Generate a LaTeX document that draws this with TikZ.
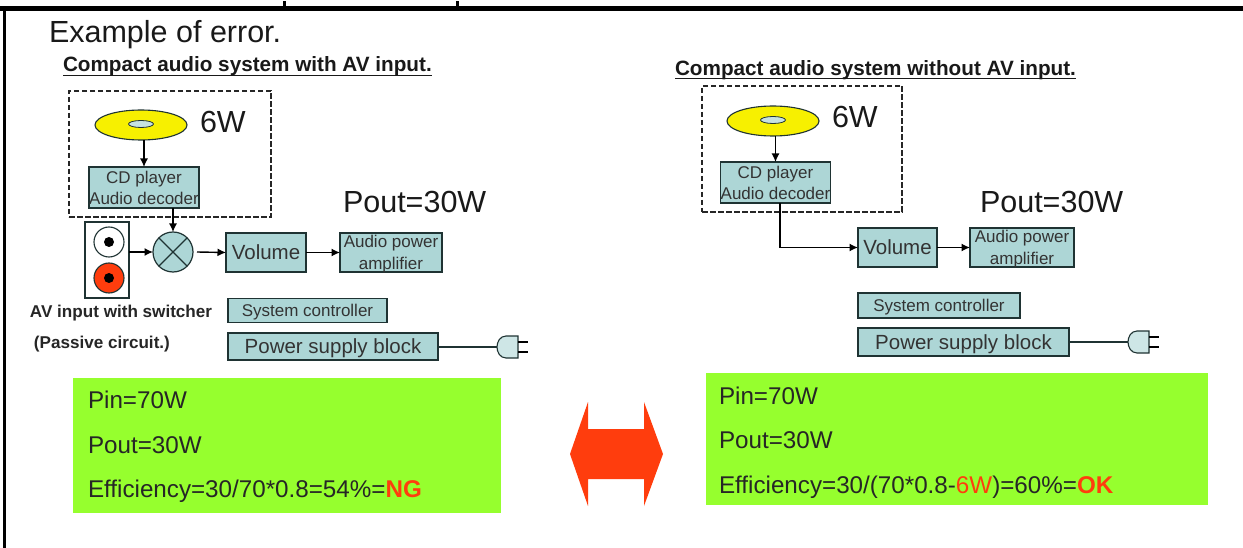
\documentclass[tikz,border=0pt]{standalone}
\usepackage{fontspec}
\setmainfont{Liberation Sans}
\usetikzlibrary{shapes.geometric,arrows.meta}
\definecolor{boxteal}{HTML}{ADD6D6}
\definecolor{boxline}{HTML}{1F3333}
\definecolor{panelgreen}{HTML}{96FF2E}
\definecolor{alertred}{HTML}{FF3D0D}
\definecolor{discyellow}{HTML}{F7F000}
\newcommand{\fsz}[1]{\fontsize{#1}{#1}\selectfont}
\begin{document}
\begin{tikzpicture}
[
x=1pt, y=-1pt,
every node/.style={inner sep=0pt, outer sep=0pt},
Block/.style={rectangle, draw=boxline, fill=boxteal, line width=1.4pt, align=center, text depth=0pt, text=black!80},
SmallBlock/.style={Block, font=\fsz{17}},
BigBlock/.style={Block, font=\fsz{20.5}},
Head/.style={anchor=base west, font=\fsz{30.5}, text=black!90},
Sub/.style={anchor=base west, font=\bfseries\fsz{20.7}, text=black!90},
Rule/.style={black!90, line width=1.2pt},
Note/.style={anchor=base west, font=\bfseries\fsz{17.1}, text=black!85},
Result/.style={anchor=base west, font=\fsz{24.2}, text=black!85},
Disc/.style={ellipse, draw=boxline, fill=discyellow, line width=1.1pt, minimum width=92pt, minimum height=30pt},
Hole/.style={ellipse, draw=boxline, fill=boxteal!70, line width=0.8pt, minimum width=25pt, minimum height=7pt},
Group/.style={rectangle, draw=black!85, line width=1.3pt, dash pattern=on 5.5pt off 2.5pt},
Link/.style={-{Latex[length=8.5pt,width=8pt]}, black, line width=1.4pt},
Cord/.style={boxline, line width=1.2pt},
powerplug/.pic={
  \draw [boxline, fill=boxteal!60, line width=1.1pt] (21,-11) -- (9,-11) .. controls (3,-11) and (0,-5) .. (0,0) .. controls (0,5) and (3,11) .. (9,11) -- (21,11) -- cycle;
  \draw [black, line width=1.3pt] (21,-5) -- (31,-5);
  \draw [black, line width=1.3pt] (21,5) -- (31,5);
},
]
%
\useasboundingbox (0,0) rectangle (1243,548);
\fill [white] (0,0) rectangle (1243,548);
\fill [black] (0,6) rectangle (1243,11);
\fill [black] (3,6) rectangle (6,548);
\fill [black] (283,1) rectangle (286,6);
\fill [black] (456,1) rectangle (459,6);

\node [Head] (Title) at (49,43) {Example of error.};

% left panel
\node [Sub] (Sub1) at (63,72) {Compact audio system with AV input.};
\draw [Rule] ([yshift=-3.5pt]Sub1.base west) -- ([yshift=-3.5pt]Sub1.base east);
\node [Group, minimum width=202pt, minimum height=126pt] (Grp1) at (170,154) {};
\node [Disc] (Disc1) at (141,125) {};
\node [Hole] (Hole1) at (141,124) {};
\node [Head] (Watt1) at (200,133) {6W};
\node [SmallBlock, minimum width=108pt, minimum height=41pt] (CD1) at (144,187.5) {CD player\\[4pt]Audio decoder};
\node [Block, fill=white, minimum width=44pt, minimum height=76pt] (Jack1) at (107,260) {};
\node [circle, draw=boxline, fill=white, line width=1.1pt, minimum size=30pt] (JackW1) at (109,242) {};
\node [circle, fill=black, minimum size=10pt] (DotW1) at (109,242) {};
\node [circle, draw=boxline, fill=alertred, line width=1.1pt, minimum size=30pt] (JackR1) at (109,278) {};
\node [circle, fill=black, minimum size=10pt] (DotR1) at (109,278) {};
\node [circle, draw=boxline, fill=boxteal, line width=1.2pt, minimum size=40pt] (Mix1) at (173,252) {};
\node [BigBlock, minimum width=80pt, minimum height=39pt] (Vol1) at (266,252.5) {Volume};
\node [SmallBlock, minimum width=102pt, minimum height=39pt] (Amp1) at (391,252.5) {Audio power\\[5pt]amplifier};
\node [Head] (Pout1) at (343,213) {Pout=30W};
\node [Note] (Av1) at (30,317) {AV input with switcher};
\node [Note] (Pas1) at (34,348) {(Passive circuit.)};
\node [SmallBlock, minimum width=159pt, minimum height=24pt] (Sys1) at (307.5,310.5) {System controller};
\node [BigBlock, minimum width=210pt, minimum height=27pt] (Pow1) at (333,346.5) {Power supply block};
\coordinate (Plug1) at (497,347);
%
\draw [Link] (CD1.north |- Disc1.south) -- (CD1.north);
\draw [Link] (Mix1.north |- CD1.south) -- (Mix1.north);
\draw [Link] (Jack1.east |- Mix1.west) -- (Mix1.west);
\draw [Link] ([xshift=4pt]Mix1.east) -- (Vol1.west);
\draw [Link] (Vol1.east) -- (Amp1.west);
\draw [boxline, line width=1.1pt] (Mix1.45) -- (Mix1.225);
\draw [boxline, line width=1.1pt] (Mix1.135) -- (Mix1.315);
\draw [Cord] (Pow1.east |- Plug1) -- (Plug1);
\pic at (Plug1) {powerplug};

% right panel
\node [Sub] (Sub2) at (675,75.5) {Compact audio system without AV input.};
\draw [Rule] ([yshift=-3pt]Sub2.base west) -- ([yshift=-3pt]Sub2.base east);
\node [Group, minimum width=200pt, minimum height=126pt] (Grp2) at (802,149) {};
\node [Disc] (Disc2) at (773,121) {};
\node [Hole] (Hole2) at (773,120) {};
\node [Head] (Watt2) at (832,128) {6W};
\node [SmallBlock, minimum width=109pt, minimum height=41pt] (CD2) at (775.5,182.5) {CD player\\[4pt]Audio decoder};
\node [BigBlock, minimum width=79pt, minimum height=39pt] (Vol2) at (897.5,247.5) {Volume};
\node [SmallBlock, minimum width=104pt, minimum height=39pt] (Amp2) at (1022,247.5) {Audio power\\[5pt]amplifier};
\node [Head] (Pout2) at (980,213) {Pout=30W};
\node [SmallBlock, minimum width=162pt, minimum height=25pt] (Sys2) at (939,305.5) {System controller};
\node [BigBlock, minimum width=211pt, minimum height=28pt] (Pow2) at (963.5,342) {Power supply block};
\coordinate (Plug2) at (1128,342);
%
\draw [Link] (CD2.north |- Disc2.south) -- (CD2.north);
\draw [Link] ([xshift=4.5pt]CD2.south) |- (Vol2.west);
\draw [Link] (Vol2.east) -- (Amp2.west);
\draw [Cord] (Pow2.east |- Plug2) -- (Plug2);
\pic at (Plug2) {powerplug};

% result panels
\fill [panelgreen] (73,378) rectangle (501,513);
\node [Result] (Pin1) at (88,408) {Pin=70W};
\node [Result] (Out1) at (88,453) {Pout=30W};
\node [Result] (Eff1) at (88,497) {Efficiency=30/70*0.8=54\%=\textcolor{alertred}{\textbf{NG}}};

\fill [panelgreen] (706,373) rectangle (1208,505);
\node [Result] (Pin2) at (719,404) {Pin=70W};
\node [Result] (Out2) at (719,448) {Pout=30W};
\node [Result] (Eff2) at (719,493) {Efficiency=30/(70*0.8-\textcolor{alertred}{6W})=60\%=\textcolor{alertred}{\textbf{OK}}};

\fill [alertred] (570,454) -- (588,402) -- (588,429) -- (644,429) -- (644,402) -- (663,454) -- (644,506) -- (644,479) -- (588,479) -- (588,506) -- cycle;
%
\end{tikzpicture}
\end{document}
